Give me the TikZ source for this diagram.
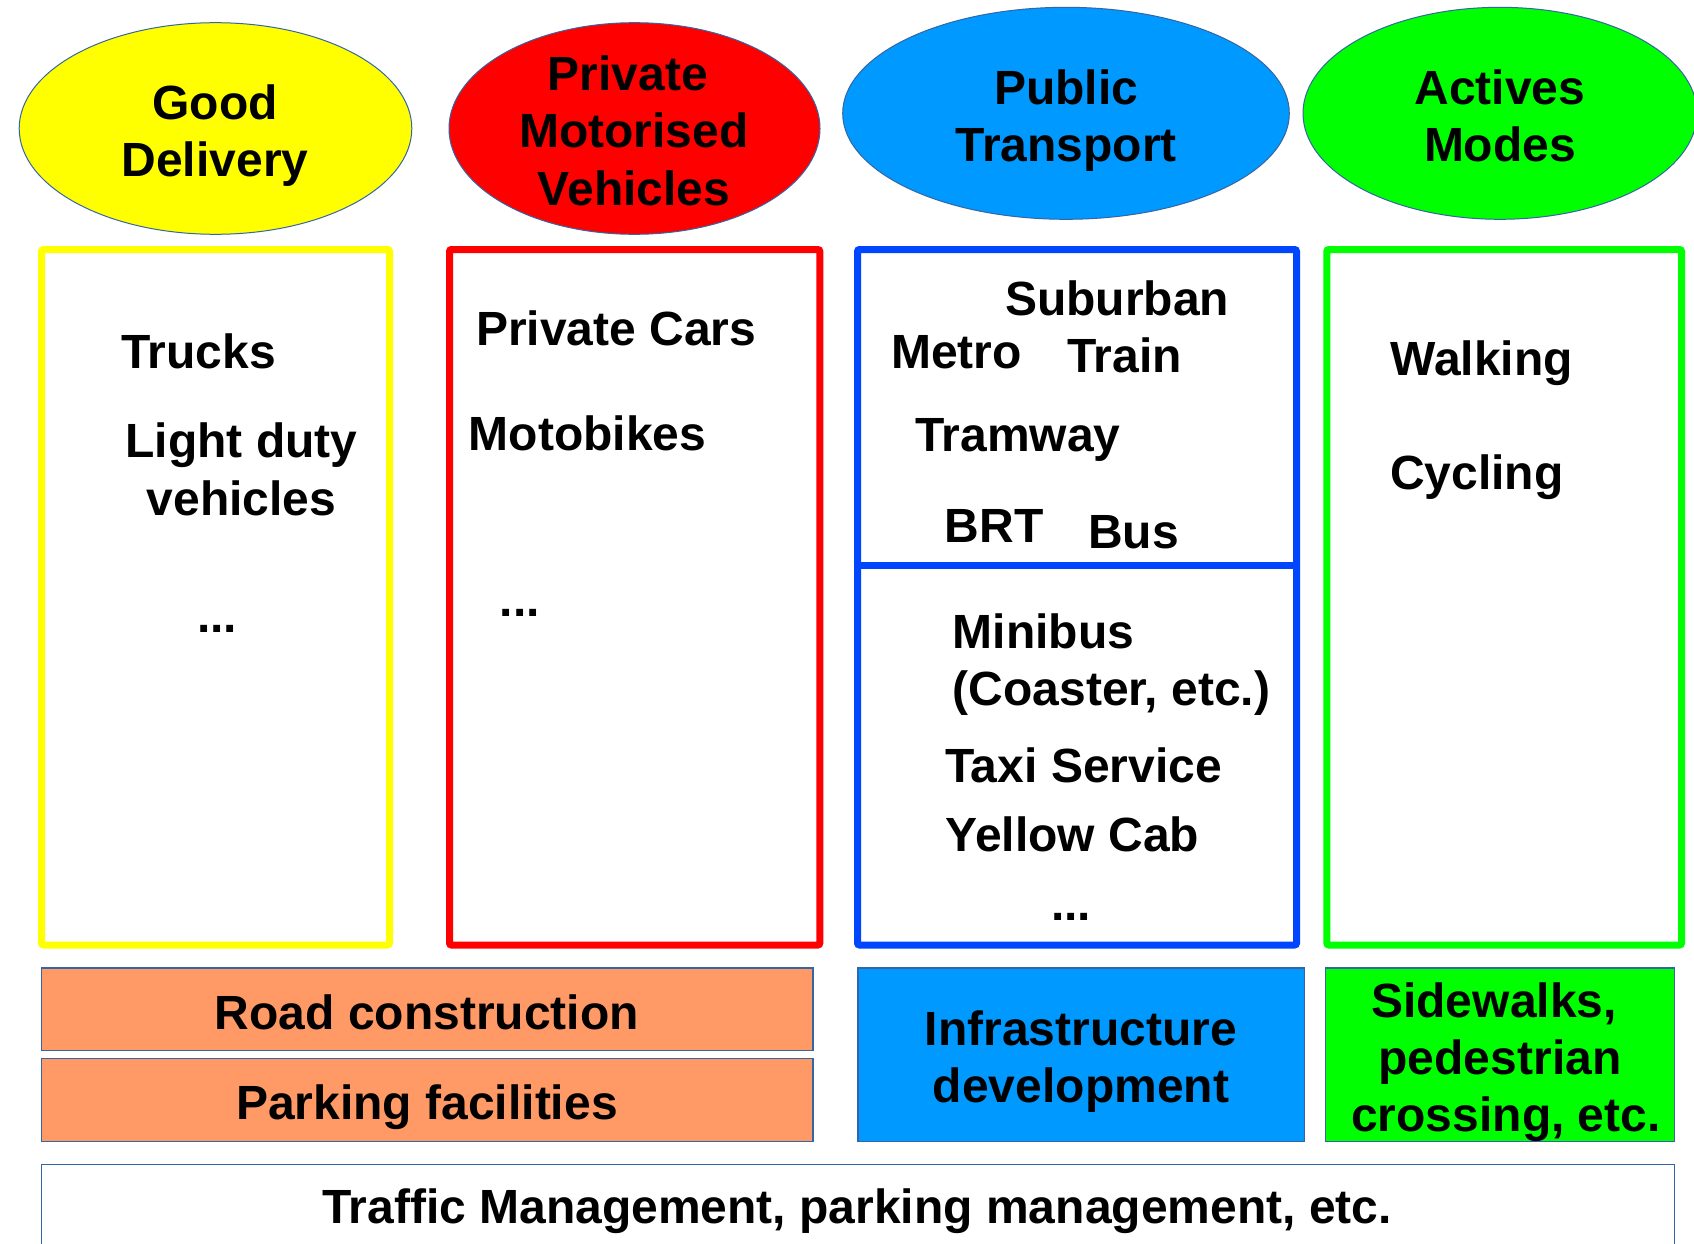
\documentclass[tikz,border=0pt]{standalone}
\usepackage{fontspec}
\setmainfont{Liberation Sans}
\usetikzlibrary{shapes.geometric}
\definecolor{edgeblue}{RGB}{52,101,164}
\definecolor{cyellow}{RGB}{255,255,0}
\definecolor{cred}{RGB}{255,0,0}
\definecolor{cblue}{RGB}{0,153,255}
\definecolor{cgreen}{RGB}{0,255,0}
\definecolor{rblue}{RGB}{0,70,255}
\definecolor{corange}{RGB}{255,153,102}
\begin{document}
\begin{tikzpicture}[x=1pt,y=-1pt,
  txt/.style={font=\fontsize{48}{57.3}\selectfont\bfseries, inner sep=0pt, align=center, anchor=base},
  ltxt/.style={font=\fontsize{48}{56.7}\selectfont\bfseries, inner sep=0pt, align=left, anchor=base west},
  oval/.style={ellipse, draw=edgeblue, line width=1pt, inner sep=0pt},
  colbox/.style={rectangle, draw, line width=7pt, rounded corners=2pt, inner sep=0pt, fill=white},
  flatbox/.style={rectangle, draw=edgeblue, line width=1.2pt, inner sep=0pt}]
\useasboundingbox (0,0) rectangle (1694,1244);
\fill[white] (0,0) rectangle (1694,1244);

% ellipses
\node[oval, fill=cyellow, minimum width=392.6pt, minimum height=211.6pt] (e1) at (215.5,128.5) {};
\node[oval, fill=cred, minimum width=371pt, minimum height=211.6pt] (e2) at (634.5,128.5) {};
\node[oval, fill=cblue, minimum width=446.6pt, minimum height=212pt] (e3) at (1066,113.3) {};
\node[oval, fill=cgreen, minimum width=394pt, minimum height=212pt] (e4) at (1500,113.3) {};
% multi-line labels: anchor at the baseline of the last line
\node[txt] (t1) at (215,176.7) {Good\\Delivery};
\node[txt] (t2) at (634,205) {Private\hspace*{12pt}\\Motorised\\Vehicles};
\node[txt] (t3) at (1066,161.7) {Public\\Transport};
\node[txt] (t4) at (1500,161.7) {Actives\\Modes};

% column boxes
\node[colbox, draw=cyellow, minimum width=348pt, minimum height=695.5pt] (c1) at (215.5,597.25) {};
\node[colbox, draw=cred, minimum width=370.3pt, minimum height=695.5pt] (c2) at (634.65,597.25) {};
\node[colbox, draw=rblue, minimum width=439pt, minimum height=695.5pt] (c3) at (1077,597.25) {};
\node[colbox, draw=cgreen, minimum width=354.7pt, minimum height=695.5pt] (c4) at (1504.15,597.25) {};
\coordinate (divL) at (857.5,565.5);
\coordinate (divR) at (1296.5,565.5);
\draw[rblue, line width=7pt] (divL) -- (divR);

% column texts
\node[ltxt] (trucks) at (121,368.3) {Trucks};
\node[txt] (light) at (241.5,515) {Light duty\\vehicles};
\node[ltxt] (dots1) at (197,632.7) {...};
\node[ltxt] (cars) at (476,345) {Private Cars};
\node[ltxt] (moto) at (468.5,450.7) {Motobikes};
\node[ltxt] (dots2) at (499.5,616.7) {...};
\node[ltxt] (sub) at (1005,315) {Suburban};
\node[ltxt] (metro) at (891,368.3) {Metro};
\node[ltxt] (train) at (1067,372.7) {Train};
\node[ltxt] (tram) at (915,451.7) {Tramway};
\node[ltxt] (brt) at (944.5,542.7) {BRT};
\node[ltxt] (bus) at (1088,548.3) {Bus};
\node[ltxt] (mini) at (952.5,705) {Minibus\\(Coaster, etc.)};
\node[ltxt] (taxi) at (945,782.7) {Taxi Service};
\node[ltxt] (cab) at (945.5,851.7) {Yellow Cab};
\node[ltxt] (dots3) at (1051,920) {...};
\node[ltxt] (walk) at (1390.5,375) {Walking};
\node[ltxt] (cyc) at (1390,489.3) {Cycling};

% bottom boxes
\node[flatbox, fill=corange, minimum width=771.3pt, minimum height=82.7pt] (road) at (427.35,1009.35) {};
\node[flatbox, fill=corange, minimum width=771.3pt, minimum height=83.4pt] (park) at (427.35,1100) {};
\node[flatbox, fill=cblue, minimum width=446.6pt, minimum height=173.7pt] (infra) at (1081.3,1054.85) {};
\node[flatbox, fill=cgreen, minimum width=348.6pt, minimum height=173.7pt] (side) at (1500.1,1054.85) {};
\node[flatbox, fill=white, minimum width=1632.7pt, minimum height=115.4pt] (traffic) at (858.05,1222) {};
\node[txt] (troad) at (427,1029.3) {Road construction};
\node[txt] (tpark) at (427,1119.3) {Parking facilities};
\node[txt] (tinfra) at (1081,1102.3) {Infrastructure\\development};
\node[txt] (tside) at (1500,1131.7) {Sidewalks,\hspace*{12pt}\\pedestrian\\\hspace*{12pt}crossing, etc.};
\node[txt] (ttraffic) at (857,1223.3) {Traffic Management, parking management, etc.};
\end{tikzpicture}
\end{document}
